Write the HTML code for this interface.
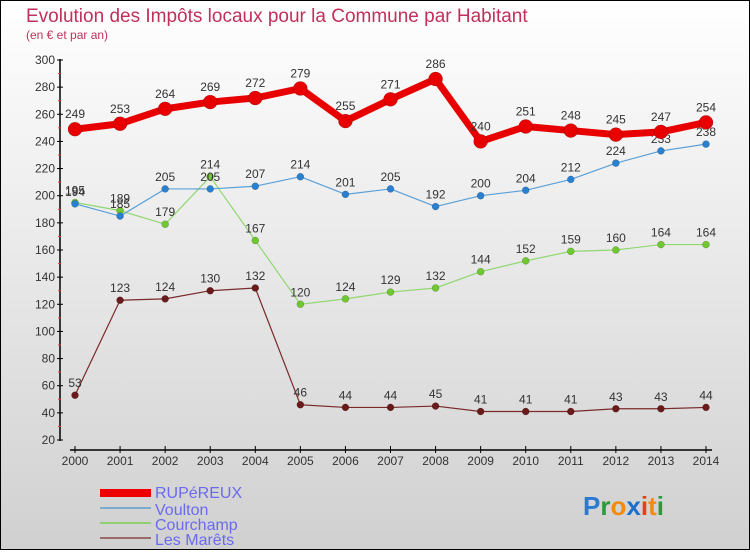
<!DOCTYPE html>
<html><head><meta charset="utf-8"><style>
html,body{margin:0;padding:0}
body{width:750px;height:550px;overflow:hidden;font-family:"Liberation Sans",sans-serif}
</style></head><body>
<svg id="chart" width="750" height="550" xmlns="http://www.w3.org/2000/svg" font-family="Liberation Sans, sans-serif">
<defs><linearGradient id="bg" x1="0" y1="0" x2="0" y2="1"><stop offset="0" stop-color="#ffffff"/><stop offset="1" stop-color="#d0d0d0"/></linearGradient></defs>
<rect x="0.5" y="0.5" width="749" height="549" fill="url(#bg)" stroke="#000"/>
<text x="26" y="22" font-size="19" fill="#c0305a">Evolution des Impôts locaux pour la Commune par Habitant</text>
<text x="26" y="39" font-size="12" fill="#c0305a">(en € et par an)</text>
<g id="axes"></g>
<g id="series"></g>
<g>
<rect x="100" y="489" width="51" height="8" fill="#e00"/>
<text x="155" y="498" font-size="16" fill="#6a6af0">RUPéREUX</text>
<rect x="100" y="507" width="51" height="2" fill="#7aaed0"/>
<text x="155" y="515" font-size="16" fill="#6a6af0">Voulton</text>
<rect x="100" y="522" width="51" height="2" fill="#90d070"/>
<text x="155" y="530" font-size="16" fill="#6a6af0">Courchamp</text>
<rect x="100" y="537" width="51" height="2" fill="#9a6a6a"/>
<text x="155" y="545" font-size="16" fill="#6a6af0">Les Marêts</text>
</g>
<text x="583" y="515" font-size="26" font-weight="bold"><tspan fill="#2a7ad0">P</tspan><tspan fill="#2a9a3a">r</tspan><tspan fill="#f08a10">o</tspan><tspan fill="#1a70d0">x</tspan><tspan fill="#e84010">i</tspan><tspan fill="#f08a10">t</tspan><tspan fill="#2a9a3a">i</tspan></text>
</svg>
<script>
const years=[2000,2001,2002,2003,2004,2005,2006,2007,2008,2009,2010,2011,2012,2013,2014];
const rupereux=[249,253,264,269,272,279,255,271,286,240,251,248,245,247,254];
const voulton=[194,185,205,205,207,214,201,205,192,200,204,212,224,233,238];
const courchamp=[195,189,179,214,167,120,124,129,132,144,152,159,160,164,164];
const marets=[53,123,124,130,132,46,44,44,45,41,41,41,43,43,44];
const yTicks=[20,40,60,80,100,120,140,160,180,200,220,240,260,280,300];
const NS="http://www.w3.org/2000/svg";
function x(i){return 75+i*(631/14);}
function y(v){return 440-(v-20)*(380/280);}
function mk(tag,attrs,parent){const e=document.createElementNS(NS,tag);for(const k in attrs)e.setAttribute(k,attrs[k]);parent.appendChild(e);return e;}
const ax=document.getElementById('axes');
let yl=mk('line',{x1:60,y1:59,x2:60,y2:441,stroke:'#000','stroke-width':1.5},ax);


yTicks.forEach((v,i)=>{
  mk('line',{x1:57,x2:63,y1:y(v),y2:y(v),stroke:'#000'},ax);
  if(i<yTicks.length-1) mk('line',{x1:58,x2:61,y1:y(v+10),y2:y(v+10),stroke:'#e33'},ax);
  const t=mk('text',{x:55,y:y(v)+4,'font-size':12,'text-anchor':'end',fill:'#333'},ax);
  t.textContent=v;
  
  
});
let xl=mk('line',{x1:70,y1:450,x2:712,y2:450,stroke:'#000','stroke-width':1.5},ax);


years.forEach((yr,i)=>{
  mk('line',{x1:x(i),x2:x(i),y1:446,y2:453,stroke:'#000'},ax);
  const t=mk('text',{x:x(i),y:465,'font-size':12,'text-anchor':'middle',fill:'#333'},ax);
  t.textContent=yr;
  
  
});
const sg=document.getElementById('series');
function series(name,data,color,lw,r,fill){
  const g=mk('g',{},sg);
  
  
  const pl=mk('polyline',{points:data.map((v,i)=>x(i)+','+y(v)).join(' '),fill:'none',stroke:color,'stroke-width':lw,'stroke-linejoin':'round'},g);
  
  
  data.forEach((v,i)=>{
    const c=mk('circle',{cx:x(i),cy:y(v),r:r,fill:fill,stroke:'rgba(0,0,0,0.3)','stroke-width':0.5},g);
    
    
    const t=mk('text',{x:x(i),y:y(v)-8-(r>5?3:0),'font-size':12,'text-anchor':'middle',fill:'#333'},g);
    t.textContent=v;
    
    
  });
}
series('les-marets',marets,'#7a2a2a',1.2,3.5,'#6a1a1a');
series('courchamp',courchamp,'#90d870',1.2,3.5,'#70c830');
series('voulton',voulton,'#5aa0d8',1.2,3.5,'#2a80d0');
series('rupereux',rupereux,'#e80000',7,7,'#e80000');
</script>
</body></html>
